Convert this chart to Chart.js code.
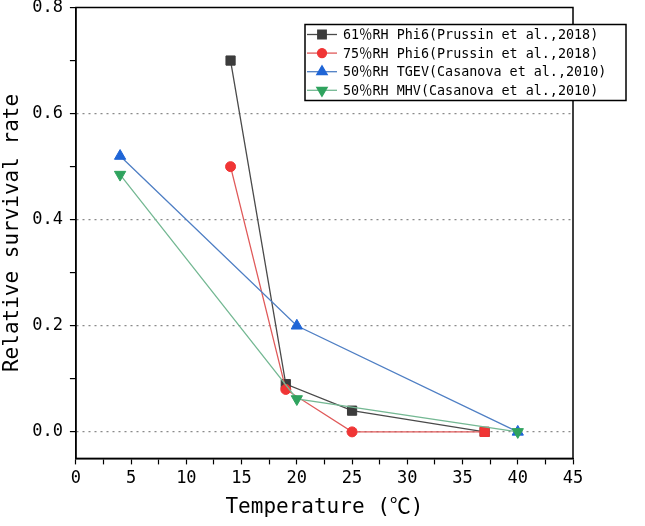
<!DOCTYPE html>
<html>
<head>
<meta charset="utf-8">
<script src="https://cdn.jsdelivr.net/npm/chart.js@4.4.1/dist/chart.umd.min.js"></script>
<style>
  html, body { margin: 0; padding: 0; background: #fff; }
  #wrap { width: 645px; height: 526px; position: relative; }
</style>
</head>
<body>
<div id="wrap"><canvas id="chart"></canvas></div>
<script>
// series data
const LABELS = [
  '61％RH Phi6(Prussin et al.,2018)',
  '75％RH Phi6(Prussin et al.,2018)',
  '50％RH TGEV(Casanova et al.,2010)',
  '50％RH MHV(Casanova et al.,2010)',
];
const PHI6_61_T = [14, 19, 25, 37];
const PHI6_61_R = [0.70, 0.09, 0.04, 0.0];
const PHI6_75_T = [14, 19, 25, 37];
const PHI6_75_R = [0.50, 0.08, 0.0, 0.0];
const TGEV_T = [4, 20, 40];
const TGEV_R = [0.52, 0.20, 0.0];
const MHV_T = [4, 20, 40];
const MHV_R = [0.485, 0.062, 0.0];

const X_TICKS = [0, 2.5, 5, 7.5, 10, 12.5, 15, 17.5, 20, 22.5, 25, 27.5, 30, 32.5, 35, 37.5, 40, 42.5, 45];
const Y_TICKS = [0, 0.1, 0.2, 0.3, 0.4, 0.5, 0.6, 0.7, 0.8];

const FONT = '"DejaVu Sans Mono", "Liberation Mono", "Noto Sans CJK SC", monospace';

const toPts = (xs, ys) => xs.map((x, i) => ({ x, y: ys[i] }));

const STYLES = [
  { line: '#4a4a4a', mark: '#3c3c3c', style: 'rect', rot: 0, r: 6.5, order: 4 },
  { line: '#e05a5a', mark: '#f03535', style: 'circle', rot: 0, r: 5, order: 3 },
  { line: '#4f7fc4', mark: '#1f65d6', style: 'triangle', rot: 0, r: 6.5, order: 2 },
  { line: '#74b893', mark: '#2fa35e', style: 'triangle', rot: 180, r: 6.5, order: 1 },
];
const SERIES = [
  toPts(PHI6_61_T, PHI6_61_R),
  toPts(PHI6_75_T, PHI6_75_R),
  toPts(TGEV_T, TGEV_R),
  toPts(MHV_T, MHV_R),
];

const isMajorX = v => Math.abs(v % 5) < 1e-6;
const isMajorY = v => Math.round(v * 10) % 2 === 0;

// where the red and black markers overlap at 37 °C the figure shows a red square
const redSquare = (i, c) => i === 1 && c.parsed && c.parsed.x === 37;
const pointStyleFor = i => c => (redSquare(i, c) ? 'rect' : STYLES[i].style);
const pointRadiusFor = i => c => (redSquare(i, c) ? STYLES[0].r : STYLES[i].r);

// black frame around the plot area
const frame = {
  id: 'frame',
  afterDraw(chart) {
    const { ctx, chartArea: a } = chart;
    ctx.save();
    ctx.strokeStyle = '#000';
    ctx.lineWidth = 1.5;
    ctx.strokeRect(a.left, a.top, a.right - a.left, a.bottom - a.top);
    ctx.restore();
  },
};

// boxed legend in the upper right corner
const legendBox = {
  id: 'legendBox',
  afterDraw(chart) {
    const { ctx, chartArea: a } = chart;
    const x0 = a.right - 268, y0 = a.top + 17, w = 321, h = 76, rowH = 18.6;
    ctx.save();
    ctx.fillStyle = '#fff';
    ctx.fillRect(x0, y0, w, h);
    ctx.strokeStyle = '#000';
    ctx.lineWidth = 1.5;
    ctx.strokeRect(x0, y0, w, h);
    ctx.font = '13.4px ' + FONT;
    ctx.textBaseline = 'middle';
    chart.data.datasets.forEach((ds, i) => {
      const s = STYLES[i];
      const y = y0 + 10 + i * rowH;
      ctx.strokeStyle = s.line;
      ctx.lineWidth = 1.3;
      ctx.beginPath();
      ctx.moveTo(x0 + 2, y);
      ctx.lineTo(x0 + 32, y);
      ctx.stroke();
      ctx.fillStyle = s.mark;
      ctx.strokeStyle = s.mark;
      Chart.helpers.drawPoint(ctx, { pointStyle: s.style, radius: s.r - 0.5, rotation: s.rot, borderWidth: 1 }, x0 + 17, y);
      ctx.fillStyle = '#000';
      ctx.fillText(ds.label, x0 + 38, y + 1);
    });
    ctx.restore();
  },
};

new Chart(document.getElementById('chart'), {
  type: 'line',
  data: {
    datasets: SERIES.map((pts, i) => ({
      label: LABELS[i],
      data: pts,
      borderColor: STYLES[i].line,
      borderWidth: 1.3,
      pointStyle: pointStyleFor(i),
      rotation: STYLES[i].rot,
      pointRadius: pointRadiusFor(i),
      pointBackgroundColor: STYLES[i].mark,
      pointBorderColor: STYLES[i].mark,
      pointBorderWidth: 1,
      order: STYLES[i].order,
      tension: 0,
      fill: false,
    })),
  },
  options: {
    responsive: true,
    maintainAspectRatio: false,
    animation: false,
    layout: { padding: { left: 0, right: 72, top: 7, bottom: 6 } },
    plugins: { legend: { display: false }, tooltip: { enabled: false } },
    scales: {
      x: {
        type: 'linear',
        min: 0,
        max: 45,
        afterBuildTicks: axis => { axis.ticks = X_TICKS.map(v => ({ value: v })); },
        ticks: {
          autoSkip: false,
          maxRotation: 0,
          color: '#000',
          font: { family: FONT, size: 17 },
          padding: 4,
          callback: v => (isMajorX(v) ? String(v) : ''),
        },
        grid: { drawOnChartArea: false, tickColor: '#000', tickLength: 6, tickWidth: 1.2 },
        border: { color: '#000', width: 1.5 },
        title: {
          display: true,
          text: 'Temperature (℃)',
          color: '#000',
          font: { family: FONT, size: 21 },
          padding: { top: 2, bottom: 0 },
        },
      },
      y: {
        type: 'linear',
        min: -0.05,
        max: 0.8,
        afterBuildTicks: axis => { axis.ticks = Y_TICKS.map(v => ({ value: v })); },
        afterFit: axis => { axis.paddingTop = 0; axis.paddingBottom = 0; },
        ticks: {
          autoSkip: false,
          color: '#000',
          font: { family: FONT, size: 17 },
          padding: 7,
          callback: v => (isMajorY(v) ? v.toFixed(1) : ''),
        },
        grid: {
          color: c => (c.tick && isMajorY(c.tick.value) && c.tick.value < 0.75 ? '#8a8a8a' : 'rgba(0,0,0,0)'),
          lineWidth: 1.2,
          tickColor: '#000',
          tickLength: 6,
          tickWidth: 1.2,
          tickBorderDash: [],
        },
        border: { color: '#000', width: 1.5, dash: [2, 4] },
        title: {
          display: true,
          text: 'Relative survival rate',
          color: '#000',
          font: { family: FONT, size: 21 },
          padding: { top: 0, bottom: 0 },
        },
      },
    },
  },
  plugins: [frame, legendBox],
});
</script>
</body>
</html>
